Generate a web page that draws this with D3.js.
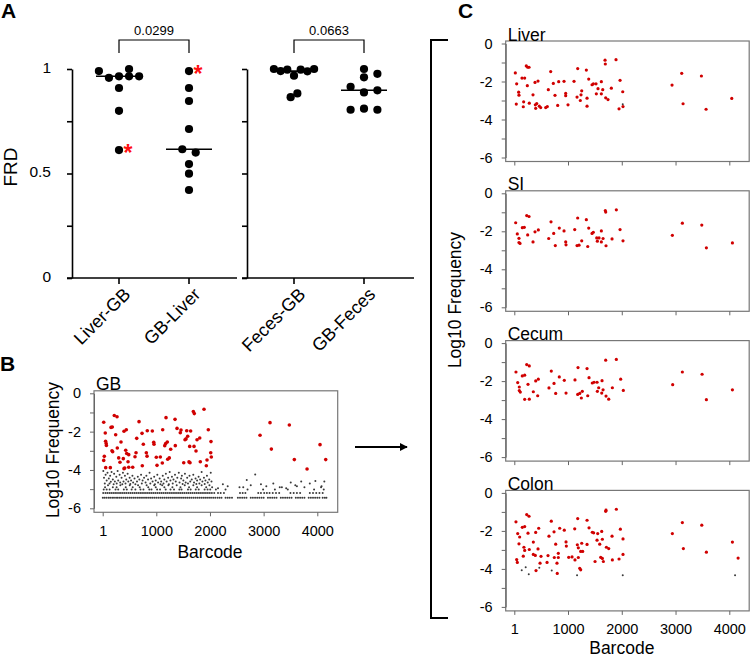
<!DOCTYPE html>
<html lang="en">
<head>
<meta charset="utf-8">
<title>FRD and barcode frequencies</title>
<style>
  body { margin: 0; background: #fff; }
  svg { display: block; font-family: "Liberation Sans", Arial, sans-serif; }
</style>
</head>
<body>
<svg id="fig" width="750" height="659"></svg>
<script src="https://d3js.org/d3.v7.min.js"></script>
<script>
// ---------- panel A : FRD ----------
const frdGroupsLeft = ["Liver-GB", "GB-Liver"];
const frdGroupsRight = ["Feces-GB", "GB-Feces"];
const frdTicks = [0, 0.25, 0.5, 0.75, 1];
const frdLabelled = [0, 0.5, 1];

const frdLiverGB = [0.99, 0.958, 0.965, 1.0, 0.965, 0.965, 0.909, 0.80, 0.612];
const frdGBLiver = [0.99, 0.909, 0.847, 0.713, 0.616, 0.60, 0.545, 0.499, 0.421];
const frdFecesGB = [1.0, 0.99, 0.997, 0.968, 0.997, 0.989, 1.0, 0.865, 0.883];
const frdGBFeces = [1.0, 0.96, 0.977, 0.915, 0.888, 0.898, 0.805, 0.81, 0.805];
// side by side slot of each dot (swarm column)
const slotLiverGB = [-3, -1.5, 0, 1.5, 1.5, 3, 0, 0, 0];
const slotGBLiver = [0, 0, 0, 0, -1, 1, 0, 0, 0];
const slotFecesGB = [-3, -2, -1, 0, 1, 2, 3, -0.5, 0.5];
const slotGBFeces = [0, 0, 2, -2, 0, 2, -2, 0, 2];

const pValues = ["0.0299", "0.0663"];
const starred = [["Liver-GB", 8], ["GB-Liver", 0]];   // group, index of dot

// ---------- panels B / C : barcode frequencies ----------
const barcodeTicks = [1, 1000, 2000, 3000, 4000];
const freqTicks = [0, -1, -2, -3, -4, -5, -6];
const tissueNames = ["Liver", "SI", "Cecum", "Colon"];

const gbRed = [[20,-1.51],[49,-2.07],[55,-2.50],[66,-2.62],[70,-2.72],[31,-3.29],[20,-3.50],[57,-3.88],[143,-3.88],[156,-1.78],[180,-1.76],[174,-3.00],[187,-3.05],[217,-1.16],[268,-1.22],[243,-2.16],[273,-2.85],[299,-3.37],[323,-3.60],[342,-2.54],[398,-1.98],[441,-1.90],[398,-3.93],[411,-3.90],[385,-3.41],[430,-2.97],[448,-3.14],[486,-3.20],[473,-3.57],[486,-3.86],[560,-3.86],[603,-3.31],[622,-3.10],[635,-2.35],[678,-1.48],[734,-2.09],[739,-3.78],[758,-2.66],[814,-3.10],[827,-3.28],[832,-1.95],[926,-1.97],[952,-2.56],[957,-2.66],[1000,-3.34],[1013,-3.76],[1075,-3.32],[1119,-1.90],[1112,-3.64],[1157,-2.73],[1175,-2.62],[1181,-1.27],[1205,-2.54],[1212,-3.44],[1242,-3.37],[1268,-2.92],[1349,-1.36],[1386,-1.83],[1354,-2.73],[1447,-2.06],[1460,-1.92],[1511,-3.62],[1535,-2.42],[1554,-2.38],[1567,-1.95],[1585,-2.24],[1609,-3.58],[1628,-3.62],[1640,-1.97],[1622,-2.77],[1690,-0.95],[1708,-1.06],[1703,-2.77],[1740,-3.01],[1759,-2.42],[1820,-3.57],[1809,-2.33],[1889,-0.83],[1932,-3.78],[1945,-3.48],[1969,-1.90],[2019,-2.52],[2025,-3.32],[2014,-3.10],[2933,-2.19],[3119,-1.53],[3144,-2.91],[3479,-1.65],[3572,-3.46],[3809,-3.95],[4051,-2.68],[4157,-3.46]];

// GB low-frequency barcodes: discrete count levels and a loose cloud above them
const gbGreyLevels = [-5.45, -5.2, -5.02, -4.9, -4.8];
const gbGreyRows = [
  [3,35,70,108,140,178,212,250,283,320,355,392,428,463,500,534,571,606,645,680,716,752,789,824,861,897,933,969,1005,1042,1078,1114,1150,1187,1222,1259,1295,1331,1367,1404,1440,1476,1512,1549,1585,1621,1657,1694,1730,1766,1802,1839,1875,1911,1947,1984,2020,2060,2098,2140,2178,2215,2290,2330,2368,2410,2520,2560,2600,2640,2680,2760,2800,2840,2880,2920,2960,3000,3080,3120,3160,3200,3240,3320,3360,3400,3440,3480,3520,3600,3640,3680,3720,3760,3840,3880,3920,3960,4000,4040,4100,4140,4170],
  [10,52,88,125,160,196,232,268,305,340,376,412,447,484,520,556,592,627,663,700,735,771,807,843,879,915,951,987,1023,1059,1095,1131,1168,1203,1240,1276,1312,1348,1384,1420,1456,1492,1528,1565,1600,1636,1672,1709,1745,1781,1817,1853,1889,1925,1961,1997,2035,2080,2150,2200,2260,2560,2610,2660,2900,2950,3010,3060,3110,3170,3230,3290,3500,3560,3620,3680,3860,3920,3980,4040,4100],
  [20,75,130,240,290,395,450,540,610,705,760,870,910,1015,1070,1175,1265,1330,1430,1470,1590,1640,1735,1790,1900,1955,2005,2110,2290,2700,2990,3210,3450,3940,4120],
  [45,190,260,430,560,690,850,990,1150,1300,1450,1610,1760,1930,2040,2620,3340,4070],
  [100,330,505,660,820,960,1110,1225,1380,1530,1690,1845,1990,3590]
];
const gbGreyCloud = [[12,-4.05],[25,-4.4],[40,-4.7],[55,-4.25],[75,-4.55],[90,-4.15],[115,-4.45],[128,-4.7],[140,-4.3],[152,-4.62],[166,-4.1],[190,-4.5],[205,-4.75],[214,-4.2],[228,-4.6],[255,-4.35],[262,-4.7],[279,-4.05],[290,-4.55],[316,-4.25],[327,-4.65],[352,-4.4],[366,-4.75],[378,-4.15],[389,-4.6],[415,-4.3],[426,-4.7],[440,-4.5],[465,-4.2],[478,-4.6],[503,-4.4],[516,-4.73],[530,-4.55],[555,-4.3],[568,-4.65],[594,-4.45],[610,-4.75],[640,-4.6],[655,-4.35],[684,-4.5],[716,-4.25],[730,-4.7],[745,-4.55],[772,-4.4],[800,-4.65],[815,-4.3],[846,-4.5],[874,-4.15],[888,-4.7],[903,-4.45],[931,-4.6],[960,-4.35],[974,-4.75],[989,-4.55],[1019,-4.25],[1033,-4.65],[1062,-4.45],[1077,-4.75],[1091,-4.6],[1120,-4.3],[1134,-4.7],[1149,-4.5],[1178,-4.2],[1192,-4.6],[1220,-4.4],[1234,-4.75],[1249,-4.1],[1263,-4.55],[1291,-4.35],[1306,-4.7],[1320,-4.5],[1348,-4.25],[1362,-4.6],[1391,-4.4],[1419,-4.15],[1433,-4.65],[1462,-4.45],[1476,-4.3],[1490,-4.73],[1504,-4.55],[1533,-4.2],[1547,-4.65],[1575,-4.4],[1590,-4.7],[1618,-4.3],[1632,-4.6],[1660,-4.5],[1689,-4.25],[1703,-4.65],[1731,-4.45],[1746,-4.73],[1760,-4.55],[1788,-4.35],[1802,-4.7],[1817,-4.5],[1845,-4.1],[1859,-4.6],[1888,-4.4],[1902,-4.73],[1916,-4.55],[1944,-4.3],[1958,-4.65],[1986,-4.5],[2014,-4.15],[2028,-4.6],[2150,-4.95],[2240,-4.75],[2330,-4.85],[2550,-4.9],[2685,-4.52],[2760,-4.8],[2843,-4.23],[2950,-4.75],[3050,-4.85],[3180,-4.7],[3300,-4.9],[3420,-4.95],[3505,-4.66],[3620,-4.85],[3700,-4.6],[3760,-4.9],[3860,-4.7],[3964,-4.58],[4080,-4.85],[4131,-4.6]];

const liverRed = [[20,-1.55],[45,-2.12],[38,-3.19],[82,-2.56],[88,-2.72],[144,-1.82],[194,-1.82],[175,-3.07],[168,-3.33],[224,-1.18],[250,-1.25],[275,-1.25],[243,-2.22],[280,-3.14],[349,-2.70],[386,-2.05],[442,-1.98],[392,-3.23],[418,-3.16],[399,-3.41],[466,-3.30],[492,-3.37],[585,-3.37],[615,-3.32],[634,-2.43],[678,-1.48],[727,-2.10],[758,-2.73],[808,-3.26],[827,-2.01],[926,-1.99],[957,-2.63],[957,-2.75],[1000,-3.23],[1112,-1.99],[1168,-2.82],[1180,-1.32],[1229,-3.00],[1242,-2.70],[1255,-2.49],[1341,-1.40],[1354,-2.88],[1354,-3.30],[1385,-1.87],[1447,-2.17],[1471,-2.12],[1521,-2.12],[1527,-2.65],[1558,-2.38],[1620,-2.01],[1620,-2.65],[1646,-2.43],[1689,-0.88],[1694,-1.08],[1701,-2.86],[1744,-2.95],[1806,-2.35],[1893,-0.85],[1949,-3.44],[1968,-1.94],[2018,-2.54],[2023,-3.32],[2935,-2.19],[3115,-1.57],[3140,-3.17],[3481,-1.71],[3568,-3.46],[4046,-2.89]];
const liverGrey = [[2018,-3.2]];

const siRed = [[27,-1.55],[57,-2.14],[88,-2.37],[88,-2.59],[107,-2.64],[150,-1.81],[187,-1.79],[232,-1.17],[275,-1.22],[250,-2.19],[349,-2.56],[386,-2.03],[448,-1.93],[641,-2.38],[684,-1.50],[734,-2.11],[764,-2.75],[838,-1.83],[926,-1.98],[957,-2.56],[963,-2.71],[1125,-1.91],[1180,-1.30],[1168,-2.75],[1205,-2.73],[1255,-2.50],[1341,-1.39],[1367,-2.80],[1385,-1.83],[1447,-2.11],[1471,-2.05],[1534,-2.35],[1546,-2.52],[1577,-2.35],[1620,-1.98],[1620,-2.56],[1652,-2.38],[1694,-0.91],[1701,-0.99],[1707,-2.76],[1819,-2.40],[1899,-0.87],[1968,-1.91],[2023,-2.50],[2941,-2.21],[3127,-1.57],[3488,-1.67],[3574,-2.87],[4058,-2.61]];

const cecumRed = [[32,-1.52],[64,-2.08],[94,-2.31],[94,-2.50],[113,-2.58],[150,-1.73],[194,-1.69],[194,-2.96],[232,-1.13],[280,-1.20],[256,-2.17],[280,-2.95],[355,-2.56],[399,-1.99],[448,-1.90],[436,-2.77],[646,-2.36],[689,-1.47],[740,-2.12],[771,-2.65],[838,-1.78],[931,-1.96],[963,-2.63],[1130,-1.94],[1186,-1.29],[1180,-2.70],[1218,-2.65],[1248,-2.89],[1266,-2.54],[1354,-1.34],[1367,-2.77],[1391,-1.82],[1452,-2.10],[1484,-2.06],[1540,-2.06],[1571,-2.35],[1546,-2.54],[1633,-1.98],[1652,-2.46],[1627,-2.63],[1707,-2.79],[1757,-2.95],[1701,-0.90],[1899,-0.86],[1825,-2.35],[1980,-1.90],[2029,-2.49],[2947,-2.19],[3127,-1.52],[3494,-1.64],[3574,-2.98],[4058,-2.46]];

const colonRed = [[32,-1.52],[64,-2.14],[88,-2.68],[101,-2.32],[45,-3.51],[57,-3.66],[150,-1.81],[194,-1.77],[168,-3.33],[180,-2.86],[194,-3.03],[232,-1.14],[275,-1.23],[256,-2.12],[280,-2.98],[355,-2.59],[355,-3.24],[399,-2.08],[442,-2.95],[455,-1.86],[392,-3.29],[498,-3.34],[480,-3.70],[405,-4.09],[628,-3.30],[610,-3.66],[646,-2.28],[689,-1.49],[740,-2.05],[745,-3.40],[771,-2.70],[795,-3.70],[820,-3.18],[820,-3.40],[800,-4.24],[845,-1.86],[931,-1.96],[963,-2.58],[969,-2.80],[1013,-3.39],[1075,-3.37],[1125,-1.89],[1130,-3.53],[1173,-2.73],[1180,-1.35],[1192,-2.89],[1236,-3.08],[1255,-2.65],[1273,-3.08],[1218,-3.97],[1236,-4.05],[1192,-3.40],[1354,-2.71],[1354,-1.44],[1391,-1.84],[1452,-2.07],[1477,-2.10],[1503,-3.61],[1540,-2.49],[1552,-2.14],[1608,-3.39],[1590,-2.70],[1639,-2.44],[1639,-3.45],[1627,-2.03],[1658,-3.61],[1714,-2.86],[1757,-2.93],[1707,-0.91],[1701,-0.97],[1899,-0.86],[1819,-2.28],[1825,-3.53],[1949,-3.48],[1974,-1.91],[2023,-2.42],[2023,-3.24],[2941,-2.14],[3127,-1.56],[3146,-2.93],[3488,-1.70],[3574,-3.12],[4058,-2.59],[4164,-3.43]];
const colonGrey = [[139,-4.07],[213,-3.91],[270,-4.28],[466,-3.94],[697,-4.08],[1168,-4.33],[2018,-4.33],[4107,-4.33]];

const tissueRed = [liverRed, siRed, cecumRed, colonRed];
const tissueGrey = [liverGrey, [], [], colonGrey];

// ---------- drawing ----------
const svg = d3.select("#fig");
const RED = "#d00000";

function panelLetter(txt, x, y) {
  svg.append("text").attr("x", x).attr("y", y).attr("font-size", 21)
    .attr("font-weight", "bold").text(txt);
}
panelLetter("A", 1, 18);
panelLetter("B", 0, 371);
panelLetter("C", 458, 18);

// ----- A -----
const frdData = {
  "Liver-GB": { vals: frdLiverGB, slots: slotLiverGB },
  "GB-Liver": { vals: frdGBLiver, slots: slotGBLiver },
  "Feces-GB": { vals: frdFecesGB, slots: slotFecesGB },
  "GB-Feces": { vals: frdGBFeces, slots: slotGBFeces }
};
const yA = d3.scaleLinear([0, 1], [278, 69]);
const slotW = 6.7;

function frdPanel(groups, xRange, axisX, axisEnd, labelTicks, pval) {
  const x = d3.scalePoint(groups, xRange);
  const g = svg.append("g");
  const ax = d3.axisLeft(yA).tickValues(frdTicks).tickSize(5).tickSizeOuter(0)
    .tickFormat(d => labelTicks && frdLabelled.includes(d) ? String(d) : "");
  g.append("g").attr("transform", `translate(${axisX},0)`).call(ax)
    .call(s => s.selectAll("path,line").attr("stroke", "#000").attr("stroke-width", 1.6))
    .call(s => s.selectAll("text").attr("font-size", 15.5).attr("fill", "#000")
      .attr("font-family", null).attr("x", -21).attr("dy", "0.2em"));
  g.append("line").attr("x1", axisX - 5).attr("x2", axisEnd)
    .attr("y1", yA(0)).attr("y2", yA(0)).attr("stroke", "#000").attr("stroke-width", 1.6);

  groups.forEach(name => {
    const cx = x(name);
    g.append("line").attr("x1", cx).attr("x2", cx).attr("y1", yA(0)).attr("y2", yA(0) + 6)
      .attr("stroke", "#000").attr("stroke-width", 1.6);
    g.append("text").attr("transform", `translate(${cx + 8},${yA(0) + 13}) rotate(-45)`)
      .attr("text-anchor", "end").attr("dy", "0.35em").attr("font-size", 18).text(name);
    const d = frdData[name];
    const med = d3.median(d.vals);
    g.append("line").attr("x1", cx - 23).attr("x2", cx + 23).attr("y1", yA(med)).attr("y2", yA(med))
      .attr("stroke", "#000").attr("stroke-width", 1.6);
    g.selectAll(null).data(d.vals.map((v, i) => [v, d.slots[i]])).join("circle")
      .attr("cx", p => cx + p[1] * slotW).attr("cy", p => yA(p[0])).attr("r", 4.1).attr("fill", "#000");
    starred.filter(s => s[0] === name).forEach(s => {
      g.append("text").attr("x", cx + d.slots[s[1]] * slotW + 9).attr("y", yA(d.vals[s[1]]) + 11)
        .attr("text-anchor", "middle").attr("font-size", 23).attr("font-weight", "bold")
        .attr("fill", "#ff1010").text("*");
    });
  });
  // comparison bracket
  const xa = x(groups[0]), xb = x(groups[1]);
  g.append("path").attr("d", `M${xa},53V40H${xb}V53`).attr("fill", "none")
    .attr("stroke", "#000").attr("stroke-width", 1.2);
  g.append("text").attr("x", (xa + xb) / 2).attr("y", 35).attr("text-anchor", "middle")
    .attr("font-size", 13).text(pval);
}
frdPanel(frdGroupsLeft, [119, 189], 72, 237, true, pValues[0]);
frdPanel(frdGroupsRight, [294, 364], 247, 414, false, pValues[1]);
svg.append("text").attr("transform", "translate(17,167) rotate(-90)").attr("text-anchor", "middle")
  .attr("font-size", 19).text("FRD");

// ----- frequency scatter panels -----
function freqPanel(o) {
  const x = d3.scaleLinear([1, 4000], [o.x1, o.x4000]);
  const y = d3.scaleLinear([0, -6], [o.y0, o.y0 + o.h]);
  const g = svg.append("g");
  const bottom = o.y0 + o.h + 4;
  g.append("rect").attr("x", o.left).attr("y", o.y0 - 2.5).attr("width", o.right - o.left)
    .attr("height", bottom - o.y0 + 2.5).attr("fill", "none").attr("stroke", "#777").attr("stroke-width", 1.2);
  g.append("g").selectAll("circle").data(o.grey).join("circle")
    .attr("cx", d => x(d[0])).attr("cy", d => y(d[1])).attr("r", 1.0).attr("fill", "#3a3a3a");
  g.append("g").selectAll("circle").data(o.red).join("circle")
    .attr("cx", d => x(d[0])).attr("cy", d => y(d[1])).attr("r", o.r).attr("fill", RED);
  const style = s => {
    s.selectAll("path,line").attr("stroke", "#666");
    s.selectAll("text").attr("font-size", 14.5).attr("fill", "#000").attr("font-family", null);
  };
  g.append("g").attr("transform", `translate(${o.left},0)`)
    .call(d3.axisLeft(y).tickValues(freqTicks).tickSize(4).tickSizeOuter(0).tickPadding(9)
      .tickFormat(d => d % 2 === 0 ? String(d) : ""))
    .call(style);
  g.append("g").attr("transform", `translate(0,${bottom})`)
    .call(d3.axisBottom(x).tickValues(barcodeTicks).tickSize(4).tickSizeOuter(0).tickPadding(9)
      .tickFormat(d => o.xLabels ? String(d) : ""))
    .call(style).call(s => s.select(".domain").remove());
  g.append("text").attr("x", o.left + 2).attr("y", o.y0 - 3).attr("font-size", 17.5).text(o.title);
  if (o.xLabels) {
    g.append("text").attr("x", (o.x1 + o.x4000) / 2).attr("y", bottom + o.titleGap)
      .attr("text-anchor", "middle").attr("font-size", 17.5).text("Barcode");
  }
}

// B : gall bladder
const gbGrey = gbGreyRows.flatMap((row, i) => row.map(b => [b, gbGreyLevels[i]])).concat(gbGreyCloud);
freqPanel({ left: 94, right: 337.7, x1: 102.7, x4000: 317.3, y0: 393.3, h: 115,
  title: "GB", red: gbRed, grey: gbGrey, r: 1.8, xLabels: true, titleGap: 46 });
svg.append("text").attr("transform", "translate(59,450) rotate(-90)").attr("text-anchor", "middle")
  .attr("font-size", 17.5).text("Log10 Frequency");

// C : tissues
tissueNames.forEach((name, i) => {
  freqPanel({ left: 505.7, right: 749.2, x1: 514.3, x4000: 729.3, y0: 43.5 + i * 149.8, h: 114,
    title: name, red: tissueRed[i], grey: tissueGrey[i], r: 1.6, xLabels: i === 3, titleGap: 43 });
});
svg.append("text").attr("transform", "translate(461,300) rotate(-90)").attr("text-anchor", "middle")
  .attr("font-size", 17.5).text("Log10 Frequency");

// arrow B -> C and bracket
svg.append("defs").append("marker").attr("id", "head").attr("viewBox", "0 0 10 10")
  .attr("refX", 9).attr("refY", 5).attr("markerWidth", 4).attr("markerHeight", 4)
  .attr("orient", "auto").append("path").attr("d", "M0,0L10,5L0,10z").attr("fill", "#000");
svg.append("line").attr("x1", 355).attr("x2", 407).attr("y1", 447).attr("y2", 447)
  .attr("stroke", "#000").attr("stroke-width", 2).attr("marker-end", "url(#head)");
svg.append("path").attr("d", "M448,40H431V618H448").attr("fill", "none")
  .attr("stroke", "#000").attr("stroke-width", 2);
</script>
</body>
</html>
